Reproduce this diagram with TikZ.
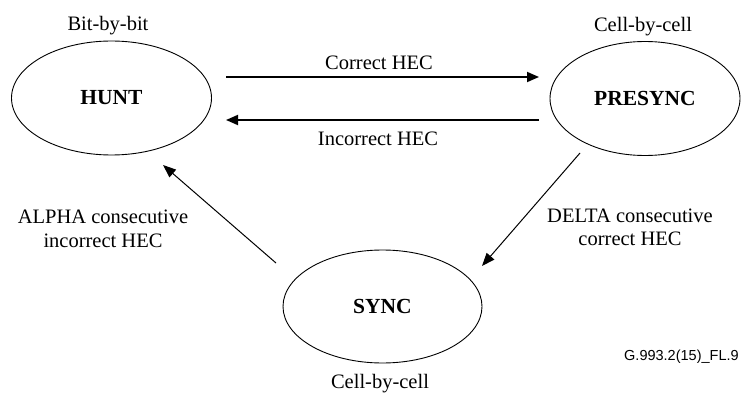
\documentclass[tikz,border=0pt]{standalone}
\usepackage{fontspec}
\setmainfont{Liberation Serif}
\newfontfamily\gfont{Liberation Sans}
\usetikzlibrary{shapes.geometric,arrows.meta}
\begin{document}
\begin{tikzpicture}[x=1pt,y=-1pt,
  state/.style={ellipse,draw,line width=0.9pt,inner sep=0pt,
    font=\fontsize{21.5}{24}\selectfont\bfseries},
  lbl/.style={anchor=base,inner sep=0pt,font=\fontsize{20.5}{24}\selectfont},
  harrow/.style={line width=1.8pt,-{Triangle[length=12pt,width=10pt]}},
  darrow/.style={line width=1pt,-{Triangle[length=13pt,width=10pt]}}]
\useasboundingbox (0,0) rectangle (741,393);
\fill[white] (0,0) rectangle (741,393);
% states
\node[state,minimum width=200pt,minimum height=114pt] (hunt) at (111.5,98) {HUNT};
\node[state,minimum width=190pt,minimum height=114pt] (presync) at (645,98.5) {PRESYNC};
\node[state,minimum width=199pt,minimum height=113pt] (sync) at (382.5,306.5) {SYNC};
% state captions
\node[lbl] (bbb) at (108,31) {Bit-by-bit};
\node[lbl] (cbc1) at (643,32) {Cell-by-cell};
\node[lbl] (cbc2) at (380,388) {Cell-by-cell};
% connector end points
\coordinate (c1s) at (226,77);
\coordinate (c1e) at (539,77);
\coordinate (c2s) at (539,120);
\coordinate (c2e) at (226,120);
\coordinate (d1s) at (580,153);
\coordinate (d1e) at (482,266);
\coordinate (d2s) at (276,263);
\coordinate (d2e) at (163,165);
% connectors
\draw[harrow] (c1s) -- (c1e);
\draw[harrow] (c2s) -- (c2e);
\draw[darrow] (d1s) -- (d1e);
\draw[darrow] (d2s) -- (d2e);
% connector labels
\node[lbl] (l1) at (379,70) {Correct HEC};
\node[lbl] (l2) at (378,145) {Incorrect HEC};
\node[lbl] (l3a) at (103,223) {ALPHA consecutive};
\node[lbl] (l3b) at (103,247) {incorrect HEC};
\node[lbl] (l4a) at (630,222) {DELTA consecutive};
\node[lbl] (l4b) at (630,245) {correct HEC};
% figure id
\node[anchor=base west,inner sep=0pt,font=\gfont\fontsize{14.5}{17}\selectfont] (fig) at (624,360) {G.993.2(15)\_FL.9};
\end{tikzpicture}
\end{document}
